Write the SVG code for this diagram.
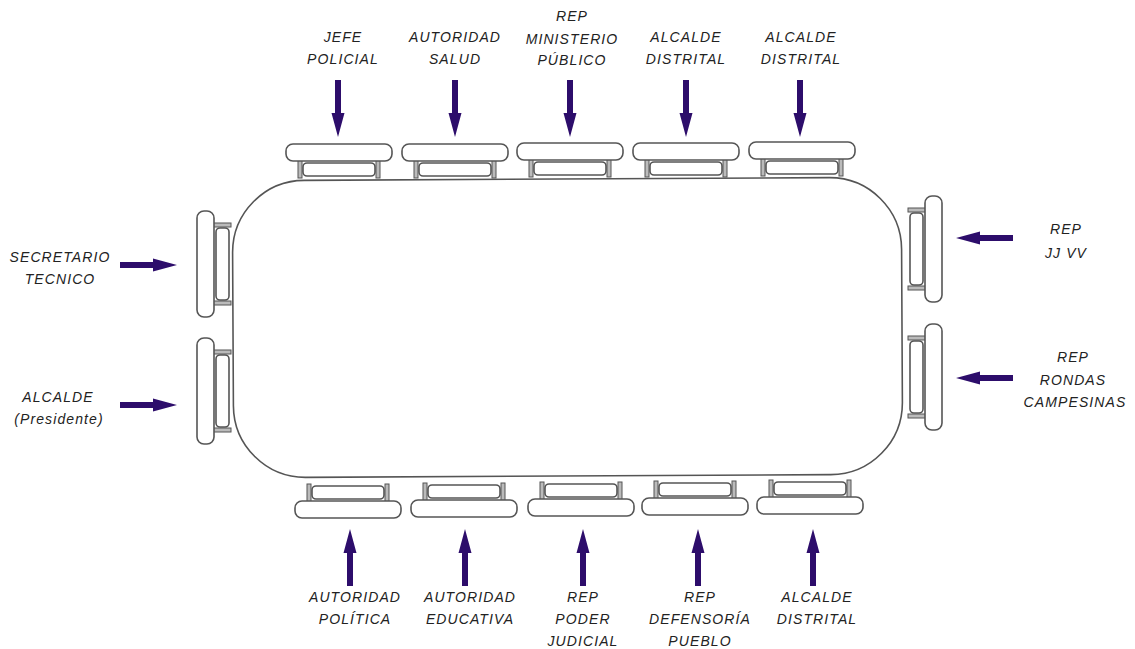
<svg xmlns="http://www.w3.org/2000/svg" width="1135" height="649" viewBox="0 0 1135 649">
<style>
.lbl{font-family:"Liberation Sans",Arial,sans-serif;font-style:italic;font-size:14px;letter-spacing:1.1px;fill:#222;text-anchor:middle}
.seat{fill:#fff;stroke:#555;stroke-width:1.6}
.back{fill:#fff;stroke:#555;stroke-width:1.6}
.leg{fill:#bbb;stroke:#555;stroke-width:1}
.dark .seat,.dark .back{stroke:#222;stroke-width:2}
.table{fill:#fff;stroke:#555;stroke-width:1.6}
.arr{fill:#2d0d6b}
</style>
<defs>
<g id="chair">
<rect class="back" x="-36" y="2" width="72" height="13" rx="4"/>
<rect class="leg" x="-41" y="-1" width="4" height="18"/>
<rect class="leg" x="37" y="-1" width="4" height="18"/>
<rect class="seat" x="-53" y="-17" width="106" height="17" rx="7"/>
</g>
<path id="arrow" d="M-3,0 H3 V33 H6.5 L0,57 L-6.5,33 H-3 Z"/>
</defs>
<g id="table">
<rect class="table" x="233" y="179" width="669" height="297" rx="72" transform="rotate(-0.3 567 328)"/>
</g>
<g id="chairs">
<use href="#chair" transform="translate(339,161)"/>
<use href="#chair" transform="translate(455,161)"/>
<use href="#chair" transform="translate(570,160)"/>
<use href="#chair" transform="translate(686,160)"/>
<use href="#chair" transform="translate(802,159)"/>
<use href="#chair" transform="translate(348,501) scale(1,-1)"/>
<use href="#chair" transform="translate(464,500) scale(1,-1)"/>
<g class="dark"><use href="#chair" transform="translate(581,499) scale(1,-1)"/></g>
<use href="#chair" transform="translate(695,498) scale(1,-1)"/>
<use href="#chair" transform="translate(810,497) scale(1,-1)"/>
<use href="#chair" transform="translate(214,264) rotate(-90)"/>
<use href="#chair" transform="translate(214,391) rotate(-90)"/>
<use href="#chair" transform="translate(925,249) rotate(90)"/>
<use href="#chair" transform="translate(925,377) rotate(90)"/>
</g>
<g id="connectors" class="arr">
<use href="#arrow" transform="translate(338,80)"/>
<use href="#arrow" transform="translate(455,80)"/>
<use href="#arrow" transform="translate(570,80)"/>
<use href="#arrow" transform="translate(686,80)"/>
<use href="#arrow" transform="translate(800,80)"/>
<use href="#arrow" transform="translate(350,586) rotate(180)"/>
<use href="#arrow" transform="translate(465,586) rotate(180)"/>
<use href="#arrow" transform="translate(583,586) rotate(180)"/>
<use href="#arrow" transform="translate(698,586) rotate(180)"/>
<use href="#arrow" transform="translate(813,586) rotate(180)"/>
<use href="#arrow" transform="translate(120,265) rotate(-90)"/>
<use href="#arrow" transform="translate(120,405) rotate(-90)"/>
<use href="#arrow" transform="translate(1013,238) rotate(90)"/>
<use href="#arrow" transform="translate(1013,378) rotate(90)"/>
</g>
<g id="n-jefe"><text class="lbl" x="343" y="42">JEFE</text><text class="lbl" x="343" y="64">POLICIAL</text></g>
<g id="n-salud"><text class="lbl" x="455" y="42">AUTORIDAD</text><text class="lbl" x="455" y="64">SALUD</text></g>
<g id="n-ministerio"><text class="lbl" x="572" y="21">REP</text><text class="lbl" x="572" y="44">MINISTERIO</text><text class="lbl" x="572" y="65">PÚBLICO</text></g>
<g id="n-alc1"><text class="lbl" x="686" y="42">ALCALDE</text><text class="lbl" x="686" y="64">DISTRITAL</text></g>
<g id="n-alc2"><text class="lbl" x="801" y="42">ALCALDE</text><text class="lbl" x="801" y="64">DISTRITAL</text></g>
<g id="n-secretario"><text class="lbl" x="60" y="262">SECRETARIO</text><text class="lbl" x="60" y="284">TECNICO</text></g>
<g id="n-presidente"><text class="lbl" x="58" y="402">ALCALDE</text><text class="lbl" x="59" y="424">(Presidente)</text></g>
<g id="n-jjvv"><text class="lbl" x="1066" y="234">REP</text><text class="lbl" x="1066" y="258">JJ VV</text></g>
<g id="n-rondas"><text class="lbl" x="1073" y="362">REP</text><text class="lbl" x="1073" y="385">RONDAS</text><text class="lbl" x="1075" y="407">CAMPESINAS</text></g>
<g id="n-politica"><text class="lbl" x="355" y="602">AUTORIDAD</text><text class="lbl" x="355" y="624">POLÍTICA</text></g>
<g id="n-educativa"><text class="lbl" x="470" y="602">AUTORIDAD</text><text class="lbl" x="470" y="624">EDUCATIVA</text></g>
<g id="n-judicial"><text class="lbl" x="583" y="602">REP</text><text class="lbl" x="583" y="624">PODER</text><text class="lbl" x="583" y="646">JUDICIAL</text></g>
<g id="n-defensoria"><text class="lbl" x="700" y="602">REP</text><text class="lbl" x="700" y="624">DEFENSORÍA</text><text class="lbl" x="700" y="646">PUEBLO</text></g>
<g id="n-alc3"><text class="lbl" x="817" y="602">ALCALDE</text><text class="lbl" x="817" y="624">DISTRITAL</text></g>
</svg>
